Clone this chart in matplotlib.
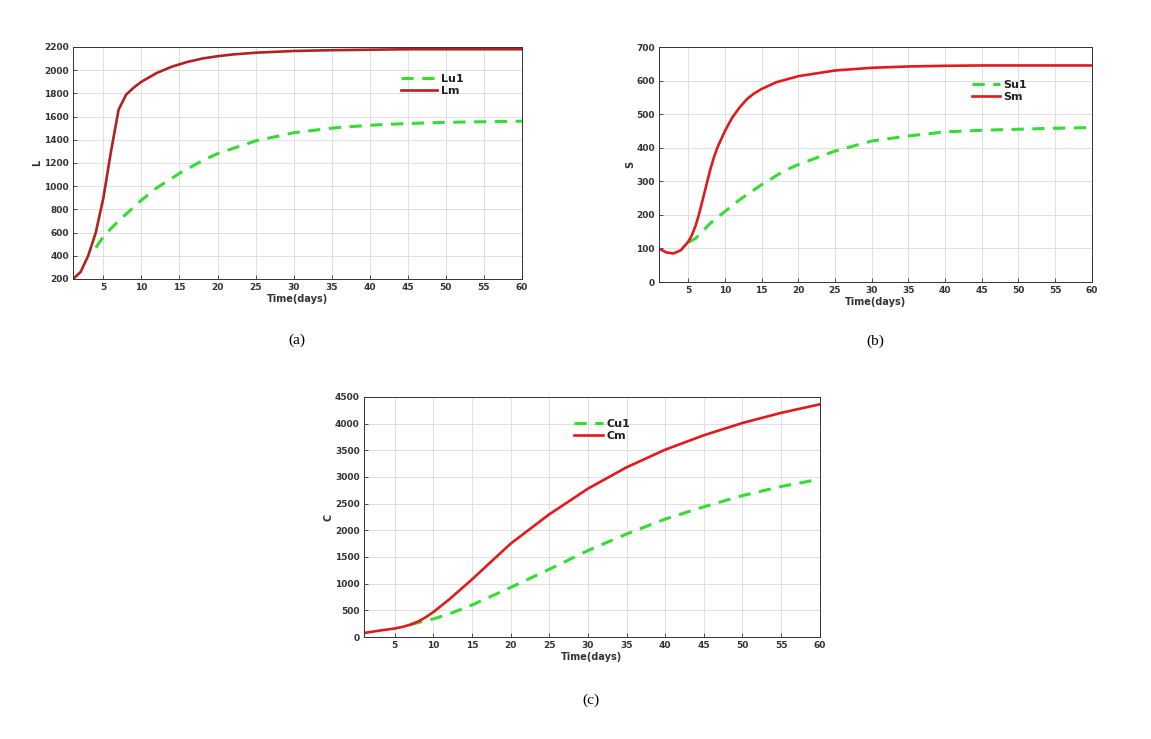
import matplotlib.pyplot as plt

# dados (dias, valores)
t_Lm = [1, 2, 3, 4, 5, 6, 7, 8, 9, 10, 12, 14, 16, 18, 20, 22, 25, 30, 35, 40, 45, 50, 55, 60]
Lm = [200, 260, 400, 600, 900, 1300, 1660, 1790, 1850, 1900, 1975, 2030, 2070, 2100, 2120, 2135, 2150, 2165, 2172, 2176, 2180, 2180, 2180, 2180]
t_Lu1 = [4, 5, 6, 7, 8, 10, 12, 15, 18, 20, 25, 30, 35, 40, 45, 50, 55, 60]
Lu1 = [470, 565, 635, 700, 760, 880, 985, 1110, 1220, 1280, 1390, 1460, 1500, 1525, 1540, 1550, 1555, 1560]

t_Sm = [1, 2, 3, 4, 5, 5.5, 6, 6.5, 7, 7.5, 8, 8.5, 9, 10, 11, 12, 13, 14, 15, 17, 20, 25, 30, 35, 40, 45, 50, 60]
Sm = [100, 88, 85, 95, 120, 140, 168, 205, 248, 292, 335, 372, 402, 450, 490, 520, 545, 562, 575, 595, 613, 630, 638, 642, 644, 645, 645, 645]
t_Su1 = [5, 6, 7, 8, 10, 12, 15, 18, 20, 25, 30, 35, 40, 45, 50, 55, 60]
Su1 = [118, 130, 152, 175, 210, 245, 290, 330, 350, 390, 420, 435, 447, 452, 455, 458, 460]

t_Cm = [1, 3, 5, 6, 7, 8, 9, 10, 12, 15, 17, 20, 25, 30, 35, 40, 45, 50, 55, 60]
Cm = [75, 120, 160, 190, 230, 290, 370, 470, 700, 1080, 1350, 1750, 2300, 2780, 3180, 3510, 3780, 4010, 4200, 4360]
t_Cu1 = [7, 8, 10, 12, 15, 20, 25, 30, 35, 40, 45, 50, 55, 59]
Cu1 = [230, 270, 340, 430, 600, 930, 1270, 1620, 1930, 2210, 2440, 2650, 2820, 2930]

verde = '#33dd33'

fig = plt.figure(figsize=(11.51, 7.39), dpi=100)

paineis = [
    # posicao, dados, nomes, cor vermelha, ylabel, ylim, yticks, legenda, handlelength, rotulo
    ([0.0634, 0.6225, 0.390, 0.314], (t_Lu1, Lu1, t_Lm, Lm), ('Lu1', 'Lm'), '#b22222', 'L',
     (200, 2200), range(200, 2201, 200), (0.80, 0.836), 3.3, ('(a)', 297, 340)),
    ([0.5725, 0.6184, 0.376, 0.318], (t_Su1, Su1, t_Sm, Sm), ('Su1', 'Sm'), '#e31a1c', 'S',
     (0, 700), range(0, 701, 100), (0.787, 0.813), 2.5, ('(b)', 875, 341)),
    ([0.3162, 0.1380, 0.396, 0.325], (t_Cu1, Cu1, t_Cm, Cm), ('Cu1', 'Cm'), '#e31a1c', 'C',
     (0, 4500), range(0, 4501, 500), (0.522, 0.862), 2.6, ('(c)', 591, 700)),
]

for pos, dados, nomes, vermelho, ylab, ylim, yticks, leg_pos, hl, rot in paineis:
    ax = fig.add_axes(pos)
    tu, u, tm, m = dados
    ax.plot(tu, u, color=verde, linewidth=2.2, linestyle=(0, (4, 2.8)), label=nomes[0])
    ax.plot(tm, m, color=vermelho, linewidth=1.9, label=nomes[1])
    ax.set_xlim(1, 60)
    ax.set_ylim(*ylim)
    ax.set_xticks(range(5, 61, 5))
    ax.set_yticks(list(yticks))
    ax.grid(True, color='#e0e0e0', linewidth=0.7)
    ax.set_axisbelow(True)
    ax.tick_params(direction='in', length=3, width=0.6, labelsize=6.5, colors='#333333', pad=3)
    for lbl in ax.get_xticklabels() + ax.get_yticklabels():
        lbl.set_fontweight('bold')
    for s in ax.spines.values():
        s.set_color('#333333')
        s.set_linewidth(0.7)
    ax.set_xlabel('Time(days)', fontsize=7, fontweight='bold', color='#333333', labelpad=1)
    ax.set_ylabel(ylab, fontsize=7, fontweight='bold', color='#333333', labelpad=1)
    leg = ax.legend(loc='center', bbox_to_anchor=leg_pos, frameon=False, handlelength=hl,
                    handletextpad=0.3, labelspacing=0.25, prop={'size': 8, 'weight': 'bold'})
    for txt in leg.get_texts():
        txt.set_color('#222222')
    # rotulo (a), (b), (c) abaixo do painel
    letra, px, py = rot
    fig.text(px / 1151, 1 - py / 739, letra, ha='center', va='center',
             fontsize=11, family='Liberation Serif')

fig.savefig('out.png', dpi=100)
